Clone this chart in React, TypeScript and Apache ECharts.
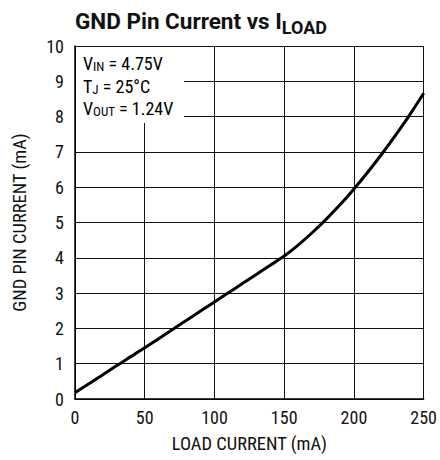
import React, { useEffect, useRef } from "react";
import * as echarts from "echarts";

const loadCurrent = [0, 10, 20, 30, 40, 50, 60, 70, 80, 90, 100, 110, 120, 130, 140, 150, 160, 170, 180, 190, 200, 210, 220, 230, 240, 250];
const gndCurrent = [0.18, 0.43, 0.69, 0.95, 1.2, 1.45, 1.71, 1.97, 2.23, 2.49, 2.75, 3.01, 3.27, 3.53, 3.79, 4.05, 4.36, 4.71, 5.09, 5.5, 5.95, 6.43, 6.94, 7.48, 8.05, 8.66];

const FONT = "'Liberation Sans Narrow', 'Roboto Condensed', 'DejaVu Sans Condensed', 'Liberation Sans', sans-serif";
const TITLE_FONT = "Roboto, 'Liberation Sans', sans-serif";

export default function App() {
  const ref = useRef<HTMLDivElement>(null);
  useEffect(() => {
    const chart = echarts.init(ref.current!, null, { renderer: "svg" });
    const data = loadCurrent.map((x, i) => [x, gndCurrent[i]]);
    const ann = (main: string, sub: string, rest: string, y: number) => ({
      type: "text",
      x: 83,
      y,
      z: 10,
      style: {
        text: `{a|${main}}{b|${sub}}{a|${rest}}`,
        rich: {
          a: { fontSize: 18, fontFamily: FONT, fill: "#000" },
          b: { fontSize: 13, fontFamily: FONT, fill: "#000", padding: [7, 0, 0, 0] },
        },
        verticalAlign: "top",
      },
    });
    chart.setOption({
      animation: false,
      backgroundColor: "#fff",
      title: {
        text: "{a|GND Pin Current vs I}{b|LOAD}",
        left: 70,
        top: 0,
        textStyle: {
          rich: {
            a: { fontSize: 22.5, fontWeight: "bold", fontFamily: TITLE_FONT, color: "#111" },
            b: { fontSize: 18, fontWeight: "bold", fontFamily: TITLE_FONT, color: "#111", padding: [13, 0, 0, 0] },
          },
        },
      },
      grid: { left: 75, right: 13, top: 46, bottom: 61 },
      xAxis: {
        type: "value",
        min: 0,
        max: 250,
        interval: 50,
        name: "LOAD CURRENT (mA)",
        nameLocation: "middle",
        nameGap: 35,
        nameTextStyle: { fontSize: 18.5, fontFamily: FONT, color: "#111" },
        axisLine: { lineStyle: { color: "#000", width: 1.5 } },
        axisTick: { show: false },
        axisLabel: { fontSize: 18, fontFamily: FONT, color: "#111", margin: 9 },
        splitLine: { show: true, lineStyle: { color: "#111", width: 1 } },
      },
      yAxis: {
        type: "value",
        min: 0,
        max: 10,
        interval: 1,
        name: "GND PIN CURRENT (mA)",
        nameLocation: "middle",
        nameGap: 46,
        nameTextStyle: { fontSize: 18.5, fontFamily: FONT, color: "#111" },
        axisLine: { show: true, lineStyle: { color: "#000", width: 1.5 } },
        axisTick: { show: false },
        axisLabel: { fontSize: 18, fontFamily: FONT, color: "#111", margin: 11 },
        splitLine: { show: true, lineStyle: { color: "#111", width: 1 } },
      },
      graphic: [
        {
          type: "rect",
          z: 5,
          shape: { x: 76, y: 47, width: 108, height: 76 },
          style: { fill: "#fff" },
        },
        ann("V", "IN", " = 4.75V", 53),
        ann("T", "J", " = 25°C", 76),
        ann("V", "OUT", " = 1.24V", 98),
      ],
      series: [
        {
          type: "line",
          data,
          smooth: 0.3,
          showSymbol: false,
          lineStyle: { color: "#000", width: 3 },
          z: 3,
        },
      ],
    });
    return () => chart.dispose();
  }, []);
  return <div ref={ref} style={{ position: "absolute", left: 0, top: 0, width: 440, height: 460 }} />;
}
